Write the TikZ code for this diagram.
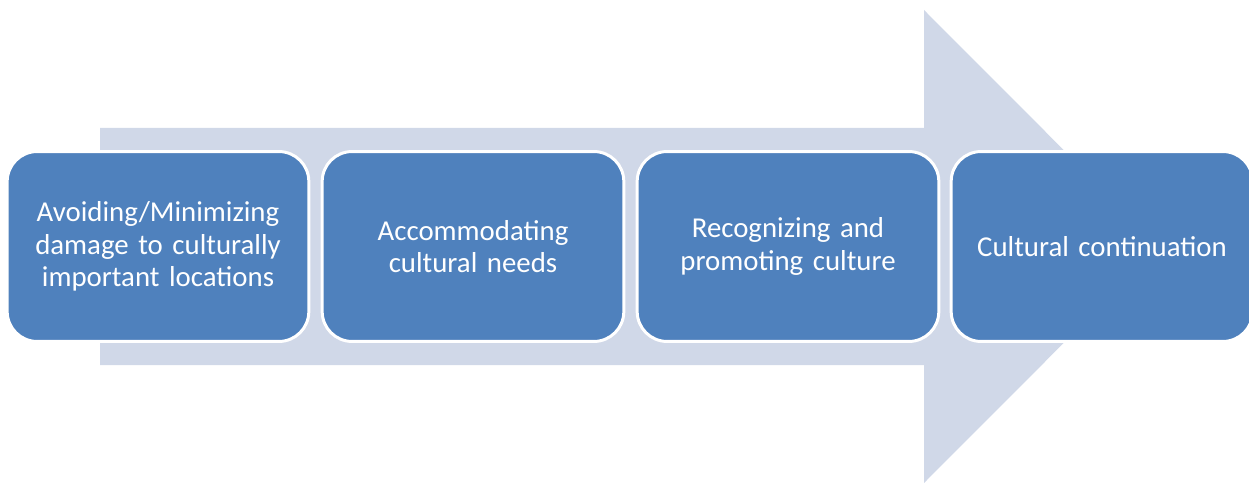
\documentclass[tikz,border=0pt]{standalone}
\usepackage{fontspec}
\setmainfont{Carlito}
\usepackage{tikz}
\definecolor{stageblue}{HTML}{4F81BD}
\definecolor{arrowgrey}{HTML}{D0D8E8}

\begin{document}
\begin{tikzpicture}[x=0.02cm, y=-0.02cm,
	stage/.style={draw=white, line width=1.7pt, fill=stageblue, rounded corners=0.6cm,
		minimum width=6cm, minimum height=3.8cm, text width=5.8cm, align=center,
		text=white, font=\fontsize{16.4}{18.4}\selectfont}]
	%%%%% START %%%%%
	
	\useasboundingbox (0, 0) rectangle (1249, 483);
	
	% big arrow behind the stages
	\fill[arrowgrey] (100, 128) -- (924, 128) -- (924, 10) -- (1160, 246.5)
		-- (924, 483) -- (924, 365) -- (100, 365) -- cycle;
	
	\node[stage] (avoid) at (158, 246.5) {Avoiding/Minimizing\\damage to culturally\\important locations};
	\node[stage] (accommodate) at (473, 246.5) {Accommodating\\cultural needs};
	\node[stage] (recognize) at (788, 246.5) {Recognizing and\\promoting culture};
	\node[stage] (continue) at (1102, 246.5) {Cultural continuation};
	
	%%%%% END %%%%%
\end{tikzpicture}
\end{document}
